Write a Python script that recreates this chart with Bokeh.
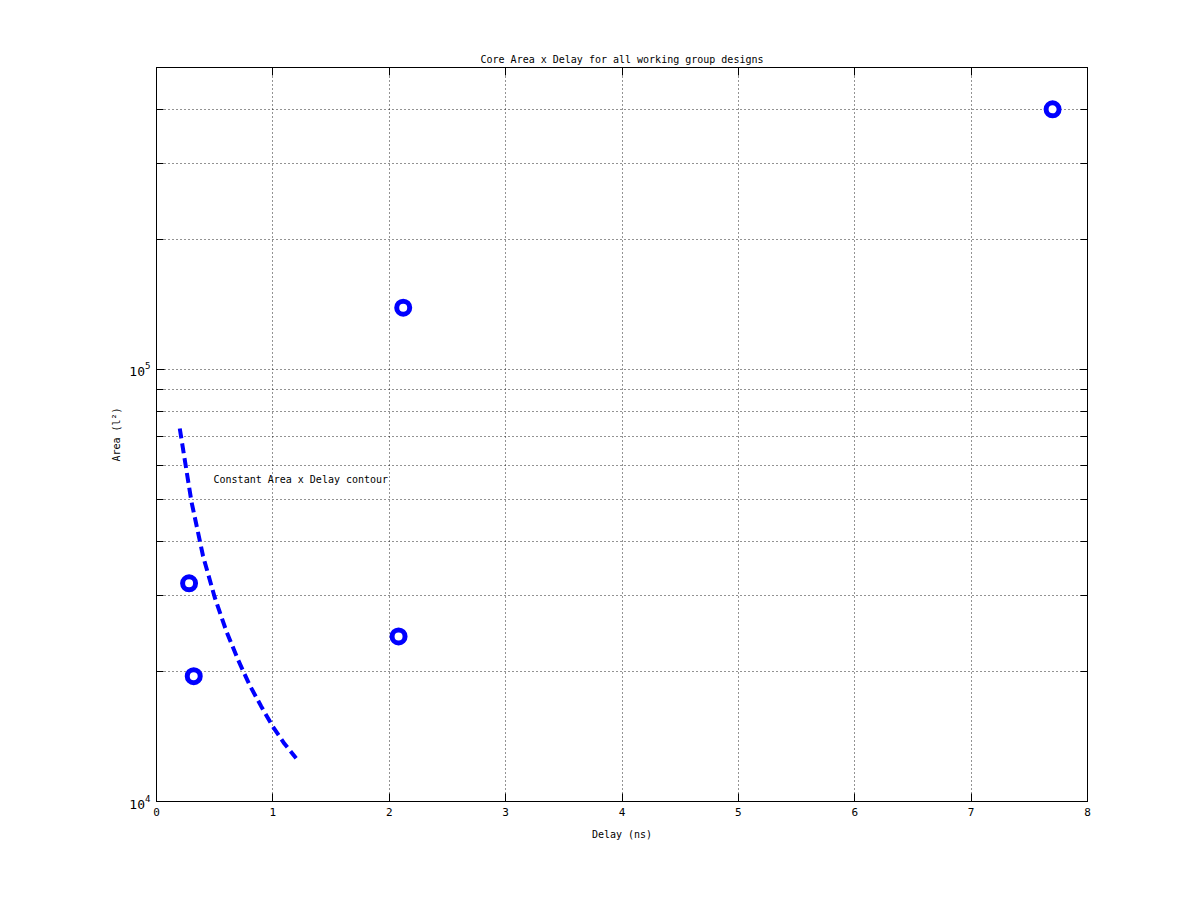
from bokeh.plotting import figure
from bokeh.models import LinearAxis, LogAxis, FixedTicker, Label
from bokeh.embed import file_html
from bokeh.resources import INLINE

# Data
design_delay = [7.70, 2.12, 0.28, 0.32, 2.08]
design_area = [400000, 139000, 32000, 19500, 24100]

contour_delay = [0.2, 0.3, 0.4, 0.5, 0.6, 0.7, 0.8, 0.9, 1.0, 1.1, 1.2]
contour_area = [73000, 49500, 37000, 29700, 24800, 21300, 18600, 16600, 14900, 13600, 12600]

x_ticks = [0, 1, 2, 3, 4, 5, 6, 7, 8]
y_major = [1e4, 1e5]
y_minor = [2e4, 3e4, 4e4, 5e4, 6e4, 7e4, 8e4, 9e4, 2e5, 3e5, 4e5, 5e5]

title_text = "Core Area x Delay for all working group designs"
x_label = "Delay (ns)"
y_label = "Area (l\u00b2)"
note_text = "Constant Area x Delay contour"
note_pos = (0.49, 55600)

FONT = "DejaVu Sans Mono"
BLUE = "#0000ff"

p = figure(width=1193, height=893, x_range=(0, 8), y_range=(1e4, 5e5),
           y_axis_type="log", output_backend="svg", toolbar_location=None,
           title=title_text)
p.min_border_left = 156
p.min_border_right = 106
p.min_border_top = 67
p.min_border_bottom = 92
p.background_fill_color = "white"
p.border_fill_color = "white"
p.outline_line_color = "black"
p.outline_line_width = 1

p.title.text_font = FONT
p.title.text_font_size = "10px"
p.title.text_font_style = "normal"
p.title.text_color = "black"
p.title.align = "center"
p.title.standoff = 5

def style_axis(ax, labels=True):
    ax.axis_line_color = "black"
    ax.major_tick_in = 8
    ax.major_tick_out = 0
    ax.minor_tick_in = 7
    ax.minor_tick_out = 0
    ax.major_tick_line_color = "black"
    ax.minor_tick_line_color = "black"
    if labels:
        ax.major_label_text_font = FONT
        ax.major_label_text_font_size = "11px"
        ax.major_label_text_color = "black"
        ax.axis_label_text_font = FONT
        ax.axis_label_text_font_size = "10px"
        ax.axis_label_text_font_style = "normal"
        ax.axis_label_text_color = "black"
    else:
        ax.major_label_text_font_size = "1px"
        ax.major_label_text_color = None
        ax.major_label_standoff = 0

xt = FixedTicker(ticks=x_ticks, minor_ticks=[])
yt = FixedTicker(ticks=y_major, minor_ticks=y_minor)

p.xaxis.ticker = xt
p.yaxis.ticker = yt
for ax in p.xaxis:
    style_axis(ax)
    ax.axis_label = x_label
    ax.major_label_standoff = 6
    ax.axis_label_standoff = 10
for ax in p.yaxis:
    style_axis(ax)
    ax.axis_label = y_label
    ax.major_label_text_font_size = "13px"
    ax.major_label_standoff = 6
    ax.axis_label_standoff = 4

top = LinearAxis(ticker=FixedTicker(ticks=x_ticks, minor_ticks=[]))
style_axis(top, labels=False)
p.add_layout(top, "above")
right = LogAxis(ticker=FixedTicker(ticks=y_major, minor_ticks=y_minor))
style_axis(right, labels=False)
p.add_layout(right, "right")

p.xgrid.ticker = xt
p.ygrid.ticker = yt
p.xgrid.grid_line_color = "black"
p.xgrid.grid_line_dash = "1 3"
p.xgrid.grid_line_alpha = 0.85
p.ygrid.grid_line_color = "black"
p.ygrid.grid_line_dash = "1 3"
p.ygrid.grid_line_alpha = 0.85
p.ygrid.minor_grid_line_color = "black"
p.ygrid.minor_grid_line_dash = "1 3"
p.ygrid.minor_grid_line_alpha = 0.85

p.line(contour_delay, contour_area, line_color=BLUE, line_width=4, line_dash="10 5")
p.scatter(design_delay, design_area, marker="circle", size=13, line_width=5,
          line_color=BLUE, fill_color="white")

p.add_layout(Label(x=note_pos[0], y=note_pos[1], text=note_text,
                   text_font=FONT, text_font_size="10px", text_baseline="middle",
                   text_color="black"))

open("out.html", "w").write(file_html(p, INLINE))
